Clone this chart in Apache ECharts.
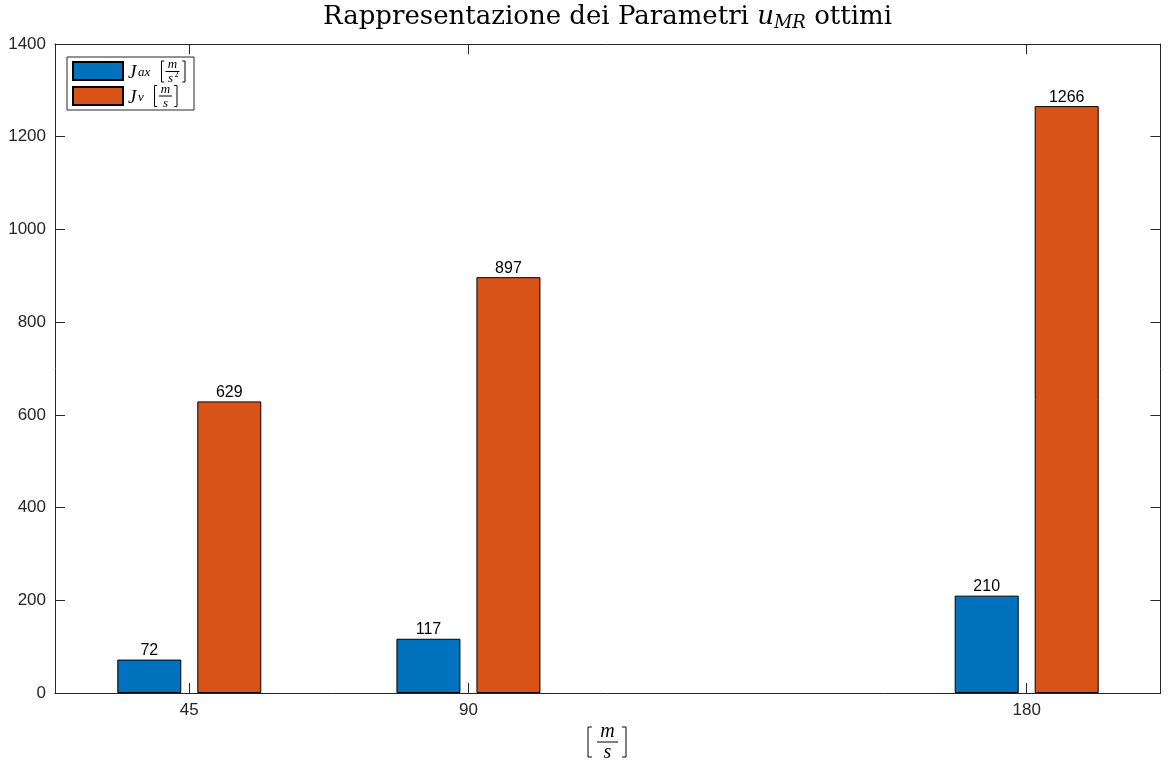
<!DOCTYPE html>
<html>
<head>
<meta charset="utf-8">
<title>Rappresentazione dei Parametri u_MR ottimi</title>
<script src="https://cdn.jsdelivr.net/npm/echarts@6/dist/echarts.min.js"></script>
<style>
html, body { margin: 0; padding: 0; background: #fff; }
#chart { width: 1168px; height: 760px; }
</style>
</head>
<body>
<div id="chart"></div>
<script>
// velocità [m/s]
var speeds = [45, 90, 180];
// J_ax [m/s^2]
var jax = [72, 117, 210];
// J_v [m/s]
var jv = [629, 897, 1266];
// asse y
var yMin = 0, yMax = 1400, yStep = 200;

var axisColor = '#262626';
var serif = '"Liberation Serif", "DejaVu Serif", serif';
var titleFont = '"DejaVu Serif", "Liberation Serif", serif';
var sans = '"Liberation Sans", Arial, Helvetica, sans-serif';

function pairs(vals) {
    return speeds.map(function (s, i) { return [s, vals[i]]; });
}

var barLabel = {
    show: true,
    position: 'top',
    distance: 1,
    color: '#000',
    fontSize: 16,
    fontFamily: sans
};

// frazione [m/den] disegnata a mano (etichette LaTeX)
function fraction(cx, cy, h, lineW, bl, br, fs, den, sup) {
    var els = [];
    var top = cy - h / 2, bot = cy + h / 2, s = Math.max(2.5, h * 0.13);
    els.push({ type: 'polyline', z: 100, shape: { points: [[bl + s, top], [bl, top], [bl, bot], [bl + s, bot]] },
        style: { stroke: '#000', lineWidth: 1, fill: null } });
    els.push({ type: 'polyline', z: 100, shape: { points: [[br - s, top], [br, top], [br, bot], [br - s, bot]] },
        style: { stroke: '#000', lineWidth: 1, fill: null } });
    els.push({ type: 'line', z: 100, shape: { x1: cx - lineW / 2, y1: cy, x2: cx + lineW / 2, y2: cy },
        style: { stroke: '#000', lineWidth: 1 } });
    els.push({ type: 'text', z: 100, x: cx, y: cy - fs * 0.5, style: { text: 'm', font: 'italic ' + fs + 'px ' + serif,
        fill: '#000', align: 'center', verticalAlign: 'middle' } });
    els.push({ type: 'text', z: 100, x: sup ? cx - fs * 0.15 : cx, y: cy + fs * 0.55, style: { text: den, font: 'italic ' + fs + 'px ' + serif,
        fill: '#000', align: 'center', verticalAlign: 'middle' } });
    if (sup) {
        els.push({ type: 'text', z: 100, x: cx + fs * 0.3, y: cy + fs * 0.3, style: { text: sup, font: Math.round(fs * 0.65) + 'px ' + serif,
            fill: '#000', align: 'center', verticalAlign: 'middle' } });
    }
    return els;
}

var graphics = []
    .concat(fraction(172.5, 71.5, 21, 14, 161.5, 185, 13, 's', '2'))
    .concat(fraction(165.5, 96, 21, 13, 154.5, 177, 13, 's'))
    .concat(fraction(607.5, 742, 30, 21, 588, 626, 20, 's'));

var option = {
    backgroundColor: '#fff',
    animation: false,
    color: ['#0072BD', '#D95319'],
    title: {
        left: 607.5,
        top: 4,
        padding: 0,
        textAlign: 'center',
        text: '{n|Rappresentazione dei Parametri }{i|u}{s|MR}{n| ottimi}',
        textStyle: {
            rich: {
                n: { fontSize: 26, fontFamily: titleFont, fontWeight: 'normal', color: '#000', lineHeight: 28, verticalAlign: 'top' },
                i: { fontSize: 26, fontFamily: titleFont, fontWeight: 'normal', fontStyle: 'italic', color: '#000', lineHeight: 28, verticalAlign: 'top' },
                s: { fontSize: 18, fontFamily: titleFont, fontWeight: 'normal', fontStyle: 'italic', color: '#000', lineHeight: 18, verticalAlign: 'bottom', padding: [15, 0, 0, 0] }
            }
        }
    },
    legend: {
        left: 67,
        top: 57,
        orient: 'vertical',
        padding: [1, 5, 3, 5],
        itemGap: 1,
        itemWidth: 50,
        itemHeight: 18,
        icon: 'rect',
        backgroundColor: '#fff',
        borderColor: axisColor,
        borderWidth: 1,
        borderRadius: 0,
        data: ['J_ax', 'J_v'],
        formatter: function (name) {
            return name === 'J_ax' ? '{j|J}{sub|ax}' : '{j|J}{sub|v}';
        },
        textStyle: {
            rich: {
                j: { fontSize: 19, fontFamily: serif, fontStyle: 'italic', color: '#000', lineHeight: 16, width: 10, verticalAlign: 'top' },
                sub: { fontSize: 13, fontFamily: serif, fontStyle: 'italic', color: '#000', lineHeight: 10, width: 51, verticalAlign: 'bottom', padding: [8, 0, 0, 0] }
            }
        }
    },
    grid: {
        left: 55,
        right: 7.5,
        top: 44,
        bottom: 67,
        containLabel: false
    },
    xAxis: [{
        type: 'value',
        position: 'bottom',
        min: 23.35,
        max: 201.57,
        axisLine: { onZero: false, lineStyle: { color: axisColor, width: 1 } },
        axisTick: { inside: true, length: 10, customValues: speeds, lineStyle: { color: axisColor } },
        axisLabel: { customValues: speeds, margin: 9, fontSize: 17, color: axisColor, fontFamily: sans },
        splitLine: { show: false }
    }, {
        type: 'value',
        position: 'top',
        min: 23.35,
        max: 201.57,
        axisLine: { onZero: false, lineStyle: { color: axisColor, width: 1 } },
        axisTick: { inside: true, length: 10, customValues: speeds, lineStyle: { color: axisColor } },
        axisLabel: { show: false },
        splitLine: { show: false }
    }],
    yAxis: [{
        type: 'value',
        position: 'left',
        min: yMin,
        max: yMax,
        interval: yStep,
        axisLine: { show: true, onZero: false, lineStyle: { color: axisColor, width: 1 } },
        axisTick: { show: true, inside: true, length: 10, lineStyle: { color: axisColor } },
        axisLabel: {
            margin: 9, fontSize: 17, color: axisColor, fontFamily: sans,
            formatter: function (v) { return String(v); }
        },
        splitLine: { show: false }
    }, {
        type: 'value',
        position: 'right',
        min: yMin,
        max: yMax,
        interval: yStep,
        axisLine: { show: true, onZero: false, lineStyle: { color: axisColor, width: 1 } },
        axisTick: { show: true, inside: true, length: 10, lineStyle: { color: axisColor } },
        axisLabel: { show: false },
        splitLine: { show: false }
    }],
    series: [{
        name: 'J_ax',
        type: 'bar',
        xAxisIndex: 0,
        yAxisIndex: 0,
        data: pairs(jax),
        barWidth: 64,
        barGap: '25%',
        itemStyle: { borderColor: '#000', borderWidth: 1 },
        label: barLabel
    }, {
        name: 'J_v',
        type: 'bar',
        xAxisIndex: 0,
        yAxisIndex: 0,
        data: pairs(jv),
        barWidth: 64,
        barGap: '25%',
        itemStyle: { borderColor: '#000', borderWidth: 1 },
        label: barLabel
    }],
    graphic: graphics
};

var myChart = echarts.init(document.getElementById('chart'));
myChart.setOption(option);
window.onresize = function () {
    myChart.resize();
};
</script>
</body>
</html>
